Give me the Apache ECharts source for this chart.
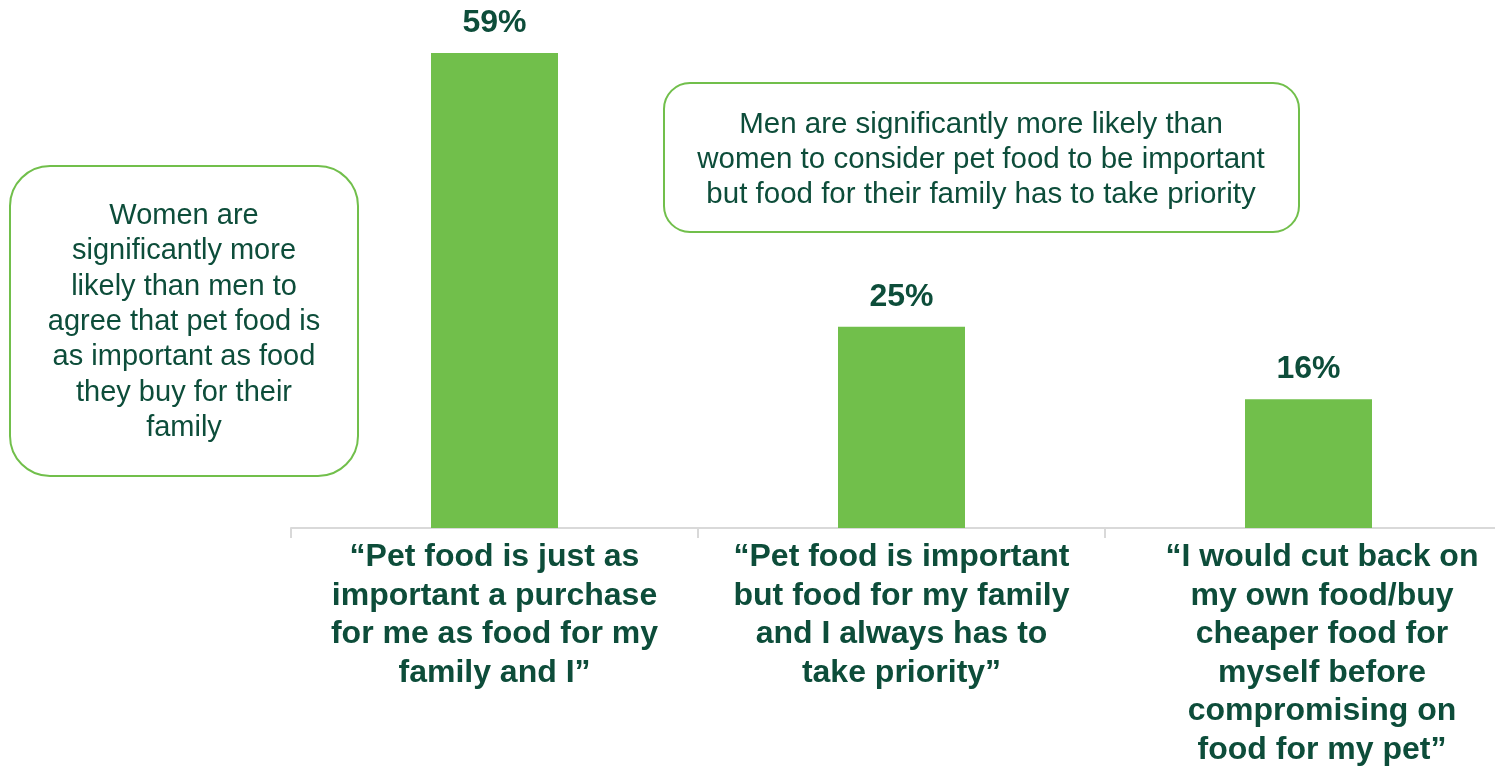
<!DOCTYPE html>
<html>
<head>
<meta charset="utf-8">
<script src="https://cdn.jsdelivr.net/npm/echarts@6/dist/echarts.min.js"></script>
<style>html,body{margin:0;padding:0;background:#fff;}#c{width:1495px;height:766px;}</style>
</head>
<body>
<div id="c"></div>
<script>
const categories = [
  '“Pet food is just as\nimportant a purchase\nfor me as food for my\nfamily and I”',
  '“Pet food is important\nbut food for my family\nand I always has to\ntake priority”',
  '“I would cut back on\nmy own food/buy\ncheaper food for\nmyself before\ncompromising on\nfood for my pet”'
];
const values = [59, 25, 16];
const noteLeft = 'Women are\nsignificantly more\nlikely than men to\nagree that pet food is\nas important as food\nthey buy for their\nfamily';
const noteRight = 'Men are significantly more likely than\nwomen to consider pet food to be important\nbut food for their family has to take priority';

const DARK = '#0d4d3a';
const GREEN = '#71bf4b';
const FONT = 'Liberation Sans, Arial, sans-serif';

const chart = echarts.init(document.getElementById('c'));
chart.setOption({
  backgroundColor: '#fff',
  animation: false,
  grid: { left: 291, width: 1221, top: 45, height: 483, outerBoundsMode: 'none', containLabel: false },
  xAxis: {
    type: 'category',
    data: categories.map((c, i) => i === 2 ? { value: c, textStyle: { padding: [0, 0, 0, 27] } } : c),
    axisLine: { lineStyle: { color: '#d9d9d9', width: 2 } },
    axisTick: { show: true, length: 10, lineStyle: { color: '#d9d9d9', width: 2 } },
    axisLabel: {
      interval: 0, margin: 10, color: DARK, fontFamily: FONT,
      fontSize: 32, fontWeight: 'bold', lineHeight: 38.5
    }
  },
  yAxis: { type: 'value', min: 0, max: 60, show: false, splitLine: { show: false } },
  series: [{
    type: 'bar',
    data: values,
    barWidth: 127,
    itemStyle: { color: GREEN },
    label: {
      show: true, position: 'top', distance: 14, formatter: '{c}%',
      color: DARK, fontFamily: FONT, fontSize: 32, fontWeight: 'bold'
    }
  }],
  graphic: [
    { type: 'rect', shape: { x: 10, y: 166, width: 348, height: 310, r: 40 },
      style: { fill: '#fff', stroke: GREEN, lineWidth: 2 }, z: 10 },
    { type: 'text', z: 11, style: { text: noteLeft, x: 184, y: 322, align: 'center', verticalAlign: 'middle',
      fill: DARK, fontFamily: FONT, fontSize: 29, lineHeight: 35.3 } },
    { type: 'rect', shape: { x: 664, y: 83, width: 635, height: 149, r: 26 },
      style: { fill: '#fff', stroke: GREEN, lineWidth: 2 }, z: 10 },
    { type: 'text', z: 11, style: { text: noteRight, x: 981, y: 160, align: 'center', verticalAlign: 'middle',
      fill: DARK, fontFamily: FONT, fontSize: 29.5, lineHeight: 35 } }
  ]
});
</script>
</body>
</html>
